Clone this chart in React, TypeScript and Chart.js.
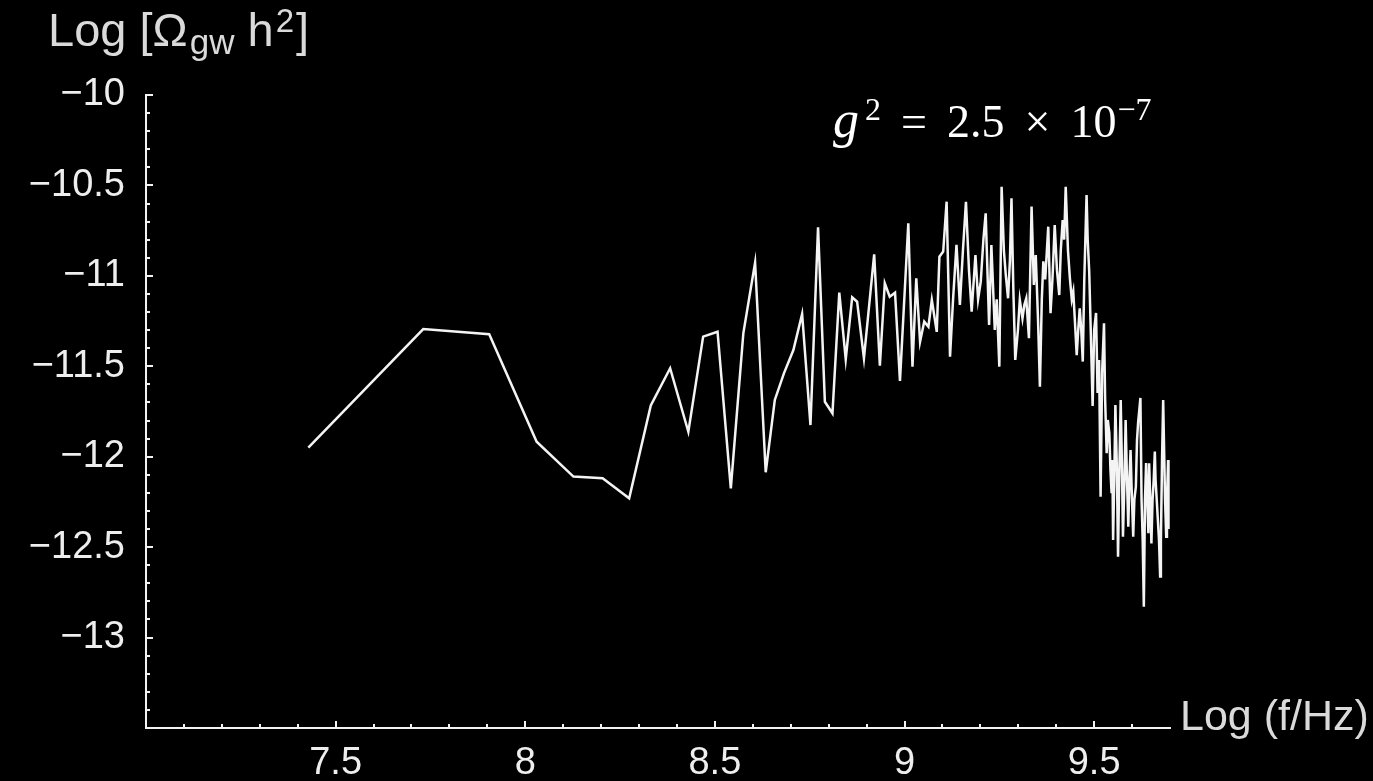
import React, { useEffect, useRef } from 'react';
import { Chart, registerables } from 'chart.js';

Chart.register(...registerables);

// Log10 frequency (x) and Log10 Omega_gw h^2 (y)
const xValues: number[] = [
  7.428, 7.731, 7.905, 8.030, 8.127, 8.204, 8.274, 8.331, 8.382, 8.430,
  8.469, 8.507, 8.542, 8.575, 8.606, 8.634, 8.658, 8.682, 8.707, 8.730,
  8.752, 8.772, 8.790, 8.810, 8.828, 8.845, 8.862, 8.875, 8.893, 8.920,
  8.935, 8.948, 8.961, 8.975, 8.988, 9.010, 9.021, 9.031, 9.041, 9.052,
  9.063, 9.072, 9.085, 9.092, 9.102, 9.111, 9.120, 9.128, 9.137, 9.146,
  9.154, 9.162, 9.170, 9.177, 9.187, 9.194, 9.201, 9.208, 9.214, 9.223,
  9.229, 9.238, 9.243, 9.250, 9.256, 9.262, 9.267, 9.273, 9.278, 9.282,
  9.287, 9.292, 9.299, 9.304, 9.311, 9.316, 9.321, 9.328, 9.335, 9.341,
  9.346, 9.352, 9.357, 9.362, 9.366, 9.371, 9.379, 9.385, 9.390, 9.396,
  9.402, 9.408, 9.412, 9.417, 9.421, 9.425, 9.431, 9.436, 9.441, 9.445,
  9.449, 9.454, 9.458, 9.462, 9.466, 9.470, 9.474, 9.480, 9.483, 9.487,
  9.491, 9.496, 9.500, 9.505, 9.509, 9.513, 9.517, 9.521, 9.526, 9.529,
  9.533, 9.536, 9.540, 9.543, 9.546, 9.548, 9.550, 9.553, 9.556, 9.560,
  9.563, 9.566, 9.570, 9.573, 9.576, 9.580, 9.583, 9.586, 9.590, 9.593,
  9.596, 9.599, 9.603, 9.606, 9.610, 9.613, 9.616, 9.619, 9.622, 9.625,
  9.628, 9.631, 9.634, 9.637, 9.640, 9.643, 9.645, 9.648, 9.651, 9.654,
  9.657, 9.660, 9.662, 9.665, 9.668, 9.671, 9.674, 9.676, 9.679, 9.682,
  9.685, 9.687, 9.690, 9.692, 9.695, 9.696,
];

const yValues: number[] = [
  -11.95, -11.294, -11.323, -11.917, -12.11, -12.119, -12.23, -11.717, -11.511, -11.862,
  -11.336, -11.309, -12.175, -11.318, -10.927, -12.086, -11.686, -11.539, -11.41, -11.211,
  -11.825, -10.732, -11.696, -11.76, -11.093, -11.461, -11.119, -11.143, -11.456, -10.881,
  -11.497, -11.041, -11.115, -11.093, -11.581, -10.709, -11.502, -11.013, -11.364, -11.253,
  -11.281, -11.133, -11.31, -10.894, -10.866, -10.59, -11.447, -11.13, -10.829, -11.161,
  -10.86, -10.59, -10.97, -11.198, -10.885, -11.13, -11.032, -10.80, -10.654, -11.272,
  -10.829, -11.299, -11.13, -11.502, -10.507, -10.86, -10.995, -11.124, -10.91, -10.571,
  -11.08, -11.465, -11.30, -11.133, -11.235, -11.16, -11.124, -11.345, -10.617, -11.05,
  -10.885, -11.24, -11.613, -11.13, -10.92, -11.02, -10.728, -11.207, -11.02, -10.719,
  -10.97, -11.106, -10.86, -10.691, -10.80, -10.507, -10.86, -11.013, -11.13, -11.087,
  -11.24, -11.438, -11.30, -11.18, -11.30, -11.474, -11.02, -10.553, -10.80, -10.977,
  -11.30, -11.72, -11.30, -11.205, -11.648, -11.465, -12.221, -11.537, -11.262, -11.686,
  -11.981, -11.797, -11.87, -12.073, -12.202, -12.018, -12.46, -12.129, -11.714, -12.073,
  -12.553, -12.129, -11.686, -12.018, -12.442, -12.129, -11.797, -12.073, -12.387, -12.129,
  -11.963, -12.184, -12.442, -12.239, -12.165, -11.908, -11.808, -11.742, -11.675, -12.239,
  -12.46, -12.829, -12.239, -12.035, -12.239, -12.423, -12.036, -12.239, -12.479, -12.239,
  -12.129, -11.972, -12.129, -12.239, -12.35, -12.46, -12.663, -12.46, -12.018, -11.686,
  -12.018, -12.239, -12.442, -12.239, -12.018, -12.40,
];

const xTickValues: number[] = [7.5, 8, 8.5, 9, 9.5];
const yTickValues: number[] = [-13, -12.5, -12, -11.5, -11, -10.5, -10];
const xMin = 7;
const xMax = 9.7;
const yMin = -13.5;
const yMax = -10;

const fmt = (v: number) => String(v).replace('-', '\u2212');

const insideTicks = {
  id: 'insideTicks',
  afterDraw(chart: any) {
    const { ctx, chartArea, scales } = chart;
    const xs = scales.x;
    const ys = scales.y;
    ctx.save();
    ctx.strokeStyle = '#f2f2f2';
    ctx.lineWidth = 2;
    ctx.beginPath();
    for (let i = 71; i <= 96; i++) {
      const px = Math.round(xs.getPixelForValue(i / 10));
      const len = i % 5 === 0 ? 7 : 4;
      ctx.moveTo(px, chartArea.bottom);
      ctx.lineTo(px, chartArea.bottom - len);
    }
    for (let i = -134; i <= -100; i++) {
      const py = Math.round(ys.getPixelForValue(i / 10));
      const len = i % 5 === 0 ? 7 : 4;
      ctx.moveTo(chartArea.left, py);
      ctx.lineTo(chartArea.left + len, py);
    }
    ctx.stroke();
    ctx.restore();
  },
};

export default function App() {
  const canvasRef = useRef<HTMLCanvasElement | null>(null);

  useEffect(() => {
    const canvas = canvasRef.current;
    if (!canvas) return;
    const points = xValues.map((x, i) => ({ x, y: yValues[i] }));
    const chart = new Chart(canvas, {
      type: 'line',
      data: {
        datasets: [
          {
            data: points,
            borderColor: '#f4f4f4',
            borderWidth: 2.5,
            pointRadius: 0,
            tension: 0,
            fill: false,
          },
        ],
      },
      options: {
        animation: false,
        responsive: false,
        layout: { padding: { top: 95, right: 203, bottom: 0, left: 0 } },
        plugins: {
          legend: { display: false },
          tooltip: { enabled: false },
          title: { display: false },
        },
        scales: {
          x: {
            type: 'linear',
            position: 'bottom',
            min: xMin,
            max: xMax,
            afterBuildTicks: (scale: any) => {
              scale.ticks = xTickValues.map((v) => ({ value: v }));
            },
            afterFit: (scale: any) => {
              scale.height = 53;
            },
            grid: { display: false, drawTicks: false },
            border: { display: true, color: '#f2f2f2', width: 2 },
            ticks: {
              autoSkip: false,
              maxRotation: 0,
              minRotation: 0,
              padding: 13,
              color: '#eeeeee',
              font: { family: '"Liberation Sans", Arial, sans-serif', size: 38 },
              callback: (v: any) => fmt(Number(v)),
            },
          },
          y: {
            type: 'linear',
            position: 'left',
            min: yMin,
            max: yMax,
            afterBuildTicks: (scale: any) => {
              scale.ticks = yTickValues.map((v) => ({ value: v }));
            },
            afterFit: (scale: any) => {
              scale.width = 146;
            },
            grid: { display: false, drawTicks: false },
            border: { display: true, color: '#f2f2f2', width: 2 },
            ticks: {
              autoSkip: false,
              padding: 21,
              color: '#eeeeee',
              font: { family: '"Liberation Sans", Arial, sans-serif', size: 38 },
              callback: (v: any) => fmt(Number(v)),
            },
          },
        },
      },
      plugins: [insideTicks],
    } as any);
    return () => chart.destroy();
  }, []);

  const sans = '"Liberation Sans", Arial, sans-serif';

  return (
    <div
      style={{
        position: 'fixed',
        left: 0,
        top: 0,
        width: 1373,
        height: 781,
        background: '#000',
        overflow: 'hidden',
      }}
    >
      <canvas ref={canvasRef} width={1373} height={781} style={{ display: 'block' }} />
      <div
        style={{
          position: 'absolute',
          left: 48,
          top: 6,
          fontFamily: sans,
          fontSize: 47,
          lineHeight: 1,
          color: '#dadada',
          whiteSpace: 'nowrap',
        }}
      >
        Log [Ω
        <span style={{ fontSize: 35, position: 'relative', top: 8, marginLeft: 2 }}>gw</span>
        {' h'}
        <span style={{ fontSize: 33, position: 'relative', top: -14, marginLeft: 2 }}>2</span>
        <span style={{ marginLeft: 2 }}>]</span>
      </div>
      <div
        style={{
          position: 'absolute',
          left: 1180,
          top: 694,
          fontFamily: sans,
          fontSize: 43,
          lineHeight: 1,
          color: '#dadada',
          whiteSpace: 'nowrap',
        }}
      >
        Log (f/Hz)
      </div>
      <div
        style={{
          position: 'absolute',
          left: 833,
          top: 94,
          fontFamily: '"Liberation Serif", "DejaVu Serif", serif',
          fontSize: 46,
          lineHeight: 1,
          color: '#ffffff',
          whiteSpace: 'nowrap',
        }}
      >
        <i style={{ fontSize: 52 }}>g</i>
        <span style={{ fontSize: 32, position: 'relative', top: -17, marginLeft: 6 }}>2</span>
        <span style={{ margin: '0 20px' }}>=</span>
        2.5
        <span style={{ margin: '0 20px' }}>×</span>
        10
        <span style={{ fontSize: 32, position: 'relative', top: -17, marginLeft: 1 }}>−7</span>
      </div>
    </div>
  );
}
